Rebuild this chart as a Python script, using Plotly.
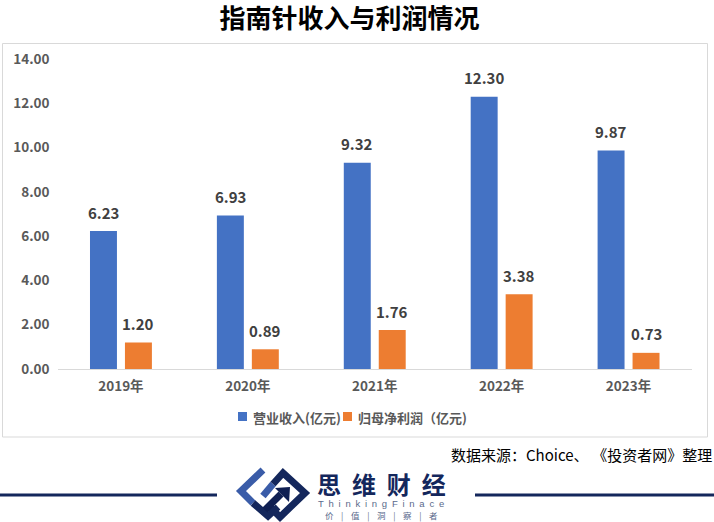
import plotly.graph_objects as go

W, H = 714, 522

years = ["2019年", "2020年", "2021年", "2022年", "2023年"]
revenue = [6.23, 6.93, 9.32, 12.30, 9.87]
profit = [1.20, 0.89, 1.76, 3.38, 0.73]
y_ticks = [0, 2, 4, 6, 8, 10, 12, 14]
revenue_name = "营业收入(亿元)"
profit_name = "归母净利润（亿元)"

FONT = "Noto Sans CJK SC"
NAVY = "#14275c"
BLUE = "#4472c4"
ORANGE = "#ed7d31"
LOGO_BLUE = "#3a5ca8"


def px(x):
    return x / W


def py(y):
    return 1 - y / H


def path(points, close=False):
    d = "M " + " L ".join(f"{px(x):.4f},{py(y):.4f}" for x, y in points)
    return d + " Z" if close else d


fig = go.Figure()
fig.add_trace(go.Bar(x=years, y=revenue, name=revenue_name, marker_color=BLUE))
fig.add_trace(go.Bar(x=years, y=profit, name=profit_name, marker_color=ORANGE))
fig.update_traces(marker_line_width=0)

fig.update_layout(
    width=W, height=H,
    margin=dict(l=0, r=0, t=0, b=0, autoexpand=False),
    paper_bgcolor="white", plot_bgcolor="white",
    font=dict(family=FONT, color="#595959"),
    barmode="group", bargap=0.449, bargroupgap=0.229,
    showlegend=False,
    title=dict(text="<b>指南针收入与利润情况</b>", x=0.4896, xanchor="center", y=0.9645, yanchor="middle",
               font=dict(family=FONT, size=26, color="black")),
)
fig.update_xaxes(domain=[px(57.5), px(692)], showline=True, linecolor="#d9d9d9", linewidth=1,
                 ticks="", automargin=False, ticklabelstandoff=5,
                 tickfont=dict(family=FONT, size=13.5, color="#595959", weight="bold"))
fig.update_yaxes(domain=[py(369), py(59)], range=[0, 14], tickvals=y_ticks,
                 tickformat=".2f", showgrid=False, zeroline=False, showline=False, ticks="",
                 automargin=False, ticklabelstandoff=7,
                 tickfont=dict(family=FONT, size=13.5, color="#595959", weight="bold"))

# value labels sit well above the bars, so they are annotations on the data axes
for values, shift in [(revenue, -17.5), (profit, 17.5)]:
    for year, v in zip(years, values):
        fig.add_annotation(x=year, y=v, text=f"<b>{v:.2f}</b>", xshift=shift, yshift=19, yanchor="middle",
                           showarrow=False, font=dict(family=FONT, size=15, color="#404040"))

paper = dict(xref="paper", yref="paper")
# chart frame and the two rules either side of the logo
fig.add_shape(type="rect", x0=px(2.5), x1=px(707.5), y0=py(437), y1=py(43.5),
              line=dict(color="#d9d9d9", width=1), layer="below", **paper)
fig.add_shape(type="line", x0=0, x1=px(217), y0=py(495), y1=py(495), line=dict(color=NAVY, width=3), **paper)
fig.add_shape(type="line", x0=px(475), x1=1, y0=py(495), y1=py(495), line=dict(color=NAVY, width=3), **paper)

# hand placed legend, the native one keeps too much room around its swatches
for x0, color in [(238, BLUE), (343, ORANGE)]:
    fig.add_shape(type="rect", x0=px(x0), x1=px(x0 + 9), y0=py(421), y1=py(412),
                  fillcolor=color, line_width=0, **paper)

# logo: two interlocked diamonds drawn as thick strokes, and an arrow
strokes = [
    ([(263, 470), (241, 491), (253, 503)], LOGO_BLUE),
    ([(253, 503), (268, 516), (278, 507)], NAVY),
    ([(263, 496), (273, 484)], LOGO_BLUE),
    ([(273, 484), (283, 473), (305, 493), (280, 517), (271, 508)], NAVY),
    ([(265, 510), (281, 494)], "#0f1f52"),
]
for points, color in strokes:
    fig.add_shape(type="path", path=path(points), fillcolor="rgba(0,0,0,0)",
                  line=dict(color=color, width=7), **paper)
fig.add_shape(type="path", path=path([(275, 488), (290, 487), (289, 502)], close=True),
              fillcolor="#0f1f52", line_width=0, **paper)

notes = [
    dict(text=revenue_name, x=251, y=417, xanchor="left",
         font=dict(family=FONT, size=13, color="#595959", weight="bold")),
    dict(text=profit_name, x=356, y=417, xanchor="left",
         font=dict(family=FONT, size=13, color="#595959", weight="bold")),
    dict(text="数据来源：Choice、\u2005《投资者网》整理", x=714, y=454, xanchor="right",
         font=dict(family=FONT, size=15, color="black")),
    dict(text="<b>思  维  财  经</b>", x=381, y=483, xanchor="center", height=28,
         font=dict(family=FONT, size=24, color=NAVY)),
    dict(text="\u2002".join("ThinkingFinace"), x=381, y=503.5, xanchor="center",
         font=dict(family="Liberation Sans", size=9.5, color="#5a6a8c")),
    dict(text="价    |    值    |    洞    |    察    |    者", x=381, y=515, xanchor="center",
         font=dict(family=FONT, size=8.5, color="#5a6a8c")),
]
for n in notes:
    fig.add_annotation(x=px(n["x"]), y=py(n["y"]), text=n["text"], xanchor=n["xanchor"], yanchor="middle",
                       height=n.get("height"), showarrow=False, font=n["font"], **paper)

# the page's default body margin would shift the figure off the 714x522 window
fig.write_html("out.html", config={"displayModeBar": False},
               post_script="document.body.style.margin='0';")
